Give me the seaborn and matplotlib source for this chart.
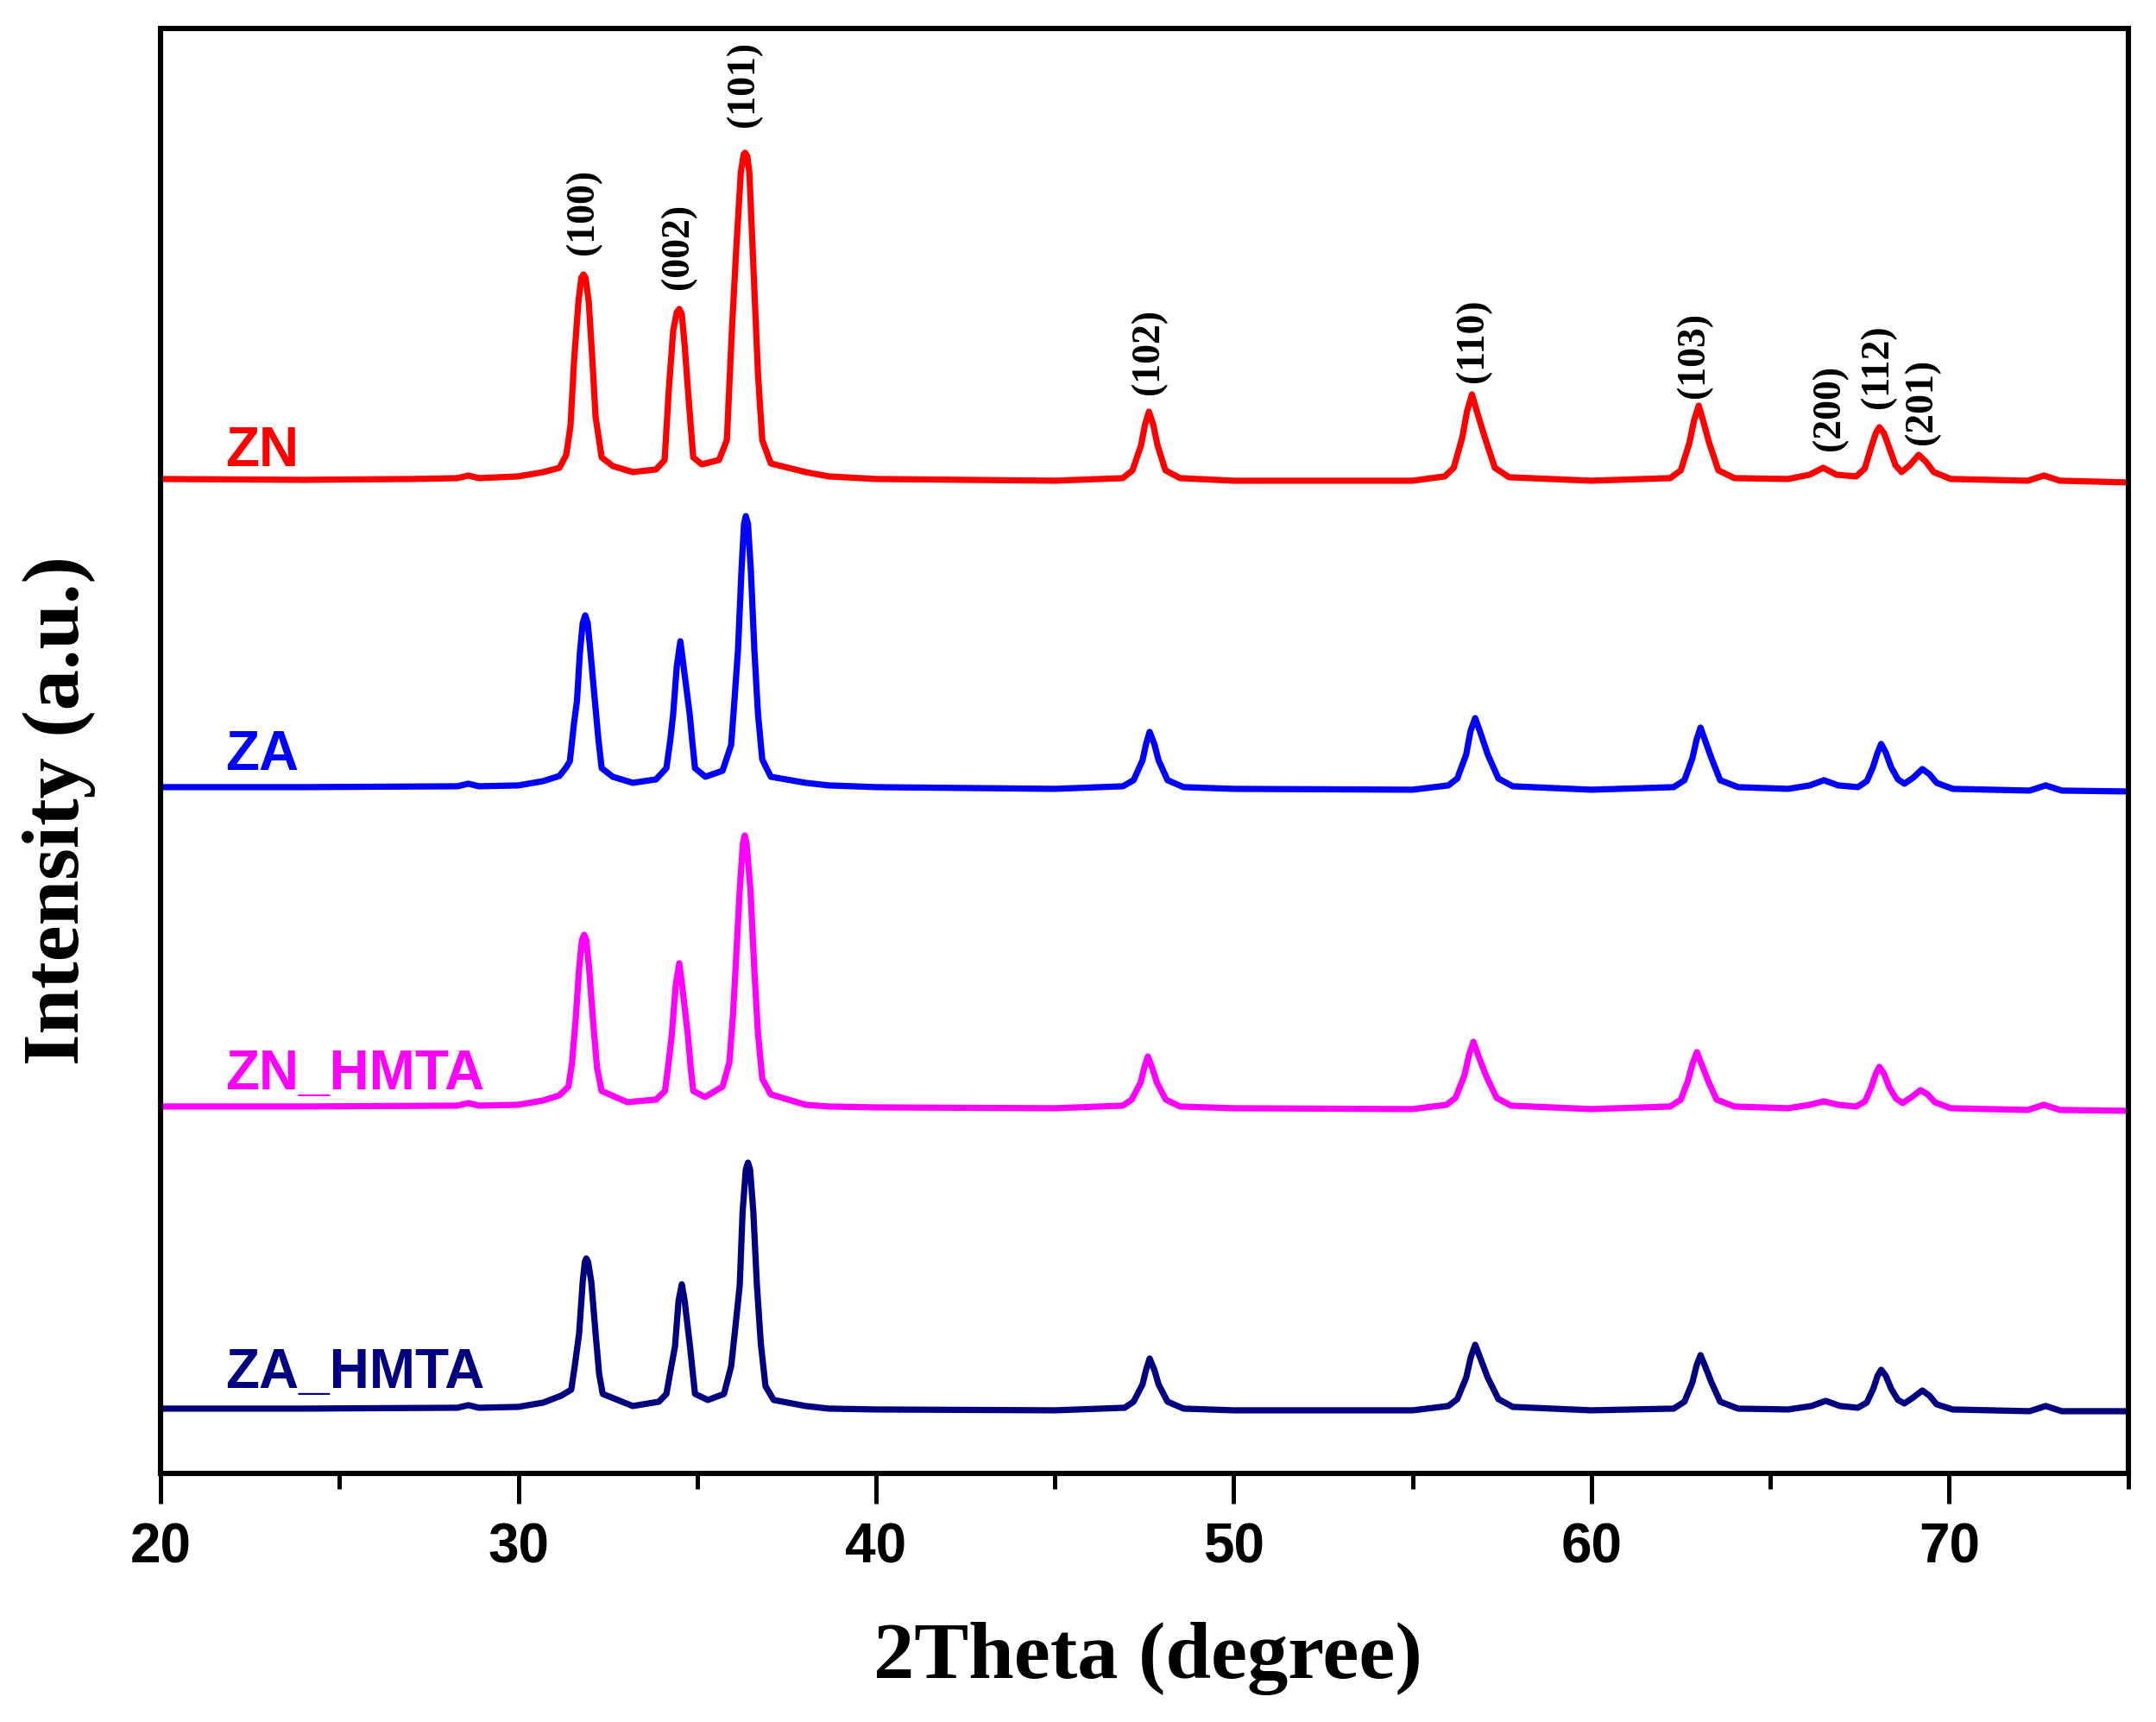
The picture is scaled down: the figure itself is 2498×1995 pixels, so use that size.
import matplotlib
matplotlib.use("Agg")
import matplotlib.pyplot as plt
from matplotlib.ticker import MultipleLocator, NullLocator
import seaborn as sns
import pandas as pd

# ---------------- data ----------------
zn_x = [20.0, 24.0, 27.0, 28.3, 28.6, 28.9, 30.0, 30.7, 31.15, 31.34, 31.46, 31.56, 31.68, 31.76, 31.82, 31.88,
        31.97, 32.07, 32.16, 32.33, 32.64, 33.2, 33.85, 34.09, 34.21, 34.33, 34.43, 34.50, 34.57, 34.65, 34.77,
        34.89, 35.13, 35.61, 35.83, 35.97, 36.10, 36.22, 36.30, 36.34, 36.40, 36.46, 36.58, 36.70, 36.82, 37.06,
        38.03, 38.68, 40.0, 45.0, 46.9, 47.17, 47.41, 47.52, 47.63, 47.75, 47.87, 48.09, 48.5, 50.0, 55.0, 55.9,
        56.15, 56.39, 56.52, 56.66, 56.80, 57.02, 57.3, 57.7, 60.0, 62.2, 62.5, 62.74, 62.87, 63.0, 63.12, 63.29,
        63.55, 64.0, 65.5, 66.1, 66.48, 66.85, 67.4, 67.64, 67.83, 67.95, 68.05, 68.18, 68.31, 68.5, 68.67, 68.9,
        69.15, 69.35, 69.57, 70.05, 72.2, 72.65, 73.1, 75.0]
zn_y = [1152, 1151, 1152, 1153, 1156, 1153, 1155, 1160, 1165, 1180, 1214, 1290, 1357, 1385, 1389, 1385,
        1357, 1290, 1224, 1177, 1167, 1160, 1163, 1174, 1257, 1324, 1345, 1349, 1343, 1307, 1240,
        1177, 1169, 1174, 1197, 1324, 1424, 1507, 1528, 1530, 1526, 1507, 1390, 1274, 1197, 1170,
        1160, 1155, 1152, 1150, 1153, 1162, 1191, 1215, 1230, 1215, 1191, 1162, 1153, 1150, 1150, 1155,
        1165, 1200, 1230, 1250, 1230, 1200, 1165, 1154, 1150, 1153, 1162, 1194, 1220, 1237, 1220, 1194,
        1162, 1153, 1152, 1157, 1165, 1157, 1155, 1164, 1190, 1205, 1212, 1205, 1190, 1168, 1160, 1168,
        1180, 1172, 1160, 1152, 1150, 1156, 1150, 1148]

za_x = [20.0, 24.0, 28.3, 28.6, 28.9, 30.0, 30.7, 31.15, 31.34, 31.44, 31.56, 31.64, 31.72, 31.80, 31.87, 31.94,
        32.02, 32.14, 32.24, 32.33, 32.64, 33.2, 33.85, 34.14, 34.25, 34.33, 34.43, 34.53, 34.62, 34.79, 34.87,
        34.94, 35.23, 35.71, 35.95, 36.05, 36.14, 36.24, 36.31, 36.36, 36.42, 36.50, 36.60, 36.70, 36.82, 37.06,
        38.03, 38.68, 40.0, 45.0, 46.9, 47.2, 47.45, 47.55, 47.65, 47.78, 47.90, 48.15, 48.6, 50.0, 55.0, 56.0,
        56.25, 56.50, 56.62, 56.75, 56.88, 57.10, 57.4, 57.8, 60.0, 62.3, 62.6, 62.82, 62.94, 63.05, 63.17, 63.36,
        63.6, 64.1, 65.5, 66.1, 66.5, 66.9, 67.45, 67.7, 67.87, 68.0, 68.1, 68.23, 68.38, 68.57, 68.75, 69.0,
        69.25, 69.45, 69.65, 70.1, 72.25, 72.7, 73.15, 75.0]
za_y = [795, 795, 796, 799, 796, 797, 802, 808, 818, 825, 870, 895, 950, 985, 994, 985,
        950, 895, 850, 817, 807, 800, 804, 817, 850, 880, 935, 964, 935, 880, 845,
        817, 807, 814, 844, 900, 953, 1047, 1100, 1109, 1100, 1047, 953, 880, 827, 807,
        800, 797, 795, 793, 796, 803, 826, 845, 859, 845, 826, 803, 795, 793, 792, 797,
        805, 833, 860, 875, 860, 833, 805, 796, 792, 795, 803, 828, 850, 864, 850, 828,
        803, 795, 793, 797, 803, 797, 795, 802, 818, 835, 845, 835, 818, 804, 799, 806,
        816, 810, 800, 793, 791, 797, 791, 790]

znh_x = [20.0, 24.0, 28.3, 28.6, 28.9, 30.0, 30.7, 31.15, 31.4, 31.5, 31.6, 31.70, 31.78, 31.84, 31.90, 31.98,
         32.09, 32.2, 32.33, 33.05, 33.85, 34.1, 34.2, 34.29, 34.40, 34.50, 34.58, 34.74, 34.82, 34.89, 35.22,
         35.71, 35.9, 36.0, 36.07, 36.19, 36.28, 36.33, 36.38, 36.49, 36.60, 36.70, 36.82, 37.06, 38.03, 38.68,
         40.0, 45.0, 46.9, 47.15, 47.40, 47.50, 47.60, 47.72, 47.85, 48.1, 48.5, 50.0, 55.0, 55.95, 56.2, 56.45,
         56.58, 56.70, 56.83, 57.05, 57.35, 57.75, 60.0, 62.2, 62.5, 62.70, 62.83, 62.95, 63.07, 63.26, 63.5,
         64.0, 65.5, 66.1, 66.5, 66.9, 67.4, 67.65, 67.82, 67.95, 68.05, 68.18, 68.33, 68.52, 68.7, 68.95, 69.2,
         69.4, 69.6, 70.05, 72.2, 72.65, 73.1, 75.0]
znh_y = [425, 425, 426, 429, 426, 427, 432, 438, 448, 475, 524, 585, 618, 624, 618, 585,
         524, 470, 443, 430, 433, 443, 475, 508, 565, 591, 565, 508, 470, 443, 436,
         448, 476, 530, 582, 676, 730, 739, 730, 676, 582, 510, 457, 439, 427, 425,
         424, 423, 426, 433, 453, 470, 483, 470, 453, 433, 425, 423, 422, 427, 435, 461,
         485, 500, 485, 461, 435, 426, 422, 425, 433, 455, 475, 488, 475, 455, 433,
         425, 423, 427, 431, 427, 425, 431, 447, 463, 471, 463, 447, 434, 429, 436, 444,
         439, 430, 423, 421, 427, 421, 420]

zah_x = [20.0, 24.0, 28.3, 28.6, 28.9, 30.0, 30.7, 31.2, 31.48, 31.58, 31.70, 31.80, 31.86, 31.90, 31.95, 32.04,
         32.16, 32.26, 32.36, 33.2, 33.93, 34.14, 34.26, 34.38, 34.48, 34.57, 34.65, 34.80, 34.88, 34.94, 35.3,
         35.75, 35.95, 36.07, 36.19, 36.27, 36.36, 36.42, 36.48, 36.57, 36.67, 36.78, 36.91, 37.14, 38.03, 38.68,
         40.0, 45.0, 46.95, 47.2, 47.45, 47.55, 47.65, 47.78, 47.90, 48.15, 48.6, 50.0, 55.0, 56.0, 56.25, 56.50,
         56.63, 56.75, 56.88, 57.10, 57.4, 57.8, 60.0, 62.3, 62.6, 62.82, 62.94, 63.05, 63.17, 63.36, 63.6, 64.1,
         65.5, 66.15, 66.55, 66.95, 67.45, 67.7, 67.88, 68.0, 68.1, 68.23, 68.38, 68.57, 68.75, 69.0, 69.25,
         69.45, 69.65, 70.1, 72.25, 72.7, 73.15, 75.0]
zah_y = [75, 75, 76, 79, 76, 77, 82, 90, 97, 125, 162, 222, 245, 249, 245, 222,
         162, 115, 92, 78, 83, 92, 120, 147, 200, 219, 200, 147, 115, 92, 85,
         92, 124, 170, 218, 303, 352, 360, 352, 303, 218, 150, 101, 85, 78, 75,
         74, 73, 76, 83, 103, 120, 133, 120, 103, 83, 75, 73, 73, 78, 86, 111,
         135, 149, 135, 111, 86, 77, 73, 75, 83, 105, 125, 137, 125, 105, 83, 75,
         74, 78, 84, 78, 76, 82, 98, 113, 120, 113, 98, 85, 81, 88, 96,
         90, 80, 74, 72, 78, 72, 72]

series_names = ["ZN", "ZA", "ZN_HMTA", "ZA_HMTA"]
series_colors = ["#FF0000", "#0000FF", "#FF00FF", "#000080"]
series_label_y = [1167, 815, 445, 99]
series_label_x = 21.8

hkl_labels = ["(100)", "(002)", "(101)", "(102)", "(110)", "(103)", "(200)", "(112)", "(201)"]
hkl_x = [31.82, 34.48, 36.31, 47.63, 56.70, 62.88, 66.67, 68.00, 69.23]
hkl_y = [1412, 1372, 1560, 1250, 1264, 1246, 1185, 1234, 1192]

xticks_major = [20, 30, 40, 50, 60, 70]

# ---------------- plotting ----------------
sns.set_style("ticks")
plt.rcParams["font.family"] = ["Liberation Sans", "DejaVu Sans"]
plt.rcParams["text.color"] = "black"
plt.rcParams["axes.labelcolor"] = "black"

fig = plt.figure(figsize=(12.49, 9.975), dpi=200)
ax = fig.add_axes([0.0745, 0.1444, 0.9125, 0.8391])

all_x = [zn_x, za_x, znh_x, zah_x]
all_y = [zn_y, za_y, znh_y, zah_y]
for name, xs, ys, col in zip(series_names, all_x, all_y, series_colors):
    df = pd.DataFrame({"two_theta": xs, "intensity": ys})
    sns.lineplot(data=df, x="two_theta", y="intensity", ax=ax, color=col,
                 linewidth=2.6, sort=False, estimator=None, legend=False)

for name, col, ly in zip(series_names, series_colors, series_label_y):
    ax.text(series_label_x, ly, name, color=col, fontsize=23, fontweight="bold",
            family=["Liberation Sans", "DejaVu Sans"], ha="left", va="baseline")

for lab, lx, ly in zip(hkl_labels, hkl_x, hkl_y):
    ax.text(lx, ly, lab, rotation=90, ha="center", va="bottom", fontsize=16.5,
            fontweight="bold", family=["Liberation Serif", "DejaVu Serif"], color="black")

ax.set_xlim(20, 75)
ax.set_ylim(0, 1674)
ax.set_xticks(xticks_major)
ax.xaxis.set_minor_locator(MultipleLocator(5))
ax.yaxis.set_major_locator(NullLocator())
ax.yaxis.set_minor_locator(NullLocator())

for sp in ax.spines.values():
    sp.set_visible(True)
    sp.set_linewidth(2.2)
    sp.set_color("black")

ax.tick_params(axis="x", which="major", direction="out", length=12.5, width=1.8,
               pad=8, labelsize=23, colors="black")
ax.tick_params(axis="x", which="minor", direction="out", length=6.5, width=1.8, colors="black")
for lbl in ax.get_xticklabels():
    lbl.set_fontweight("bold")
    lbl.set_family(["Liberation Sans", "DejaVu Sans"])

ax.set_xlabel("2Theta (degree)", fontsize=34, fontweight="bold", color="black",
              family=["Liberation Serif", "DejaVu Serif"])
ax.set_ylabel("Intensity (a.u.)", fontsize=34, fontweight="bold", color="black",
              family=["Liberation Serif", "DejaVu Serif"])
ax.xaxis.set_label_coords(0.502, -0.103)
ax.yaxis.set_label_coords(-0.033, 0.459)
ax.grid(False)
ax.set_facecolor("white")
fig.patch.set_facecolor("white")

fig.savefig("out.png", dpi=200, facecolor="white")
